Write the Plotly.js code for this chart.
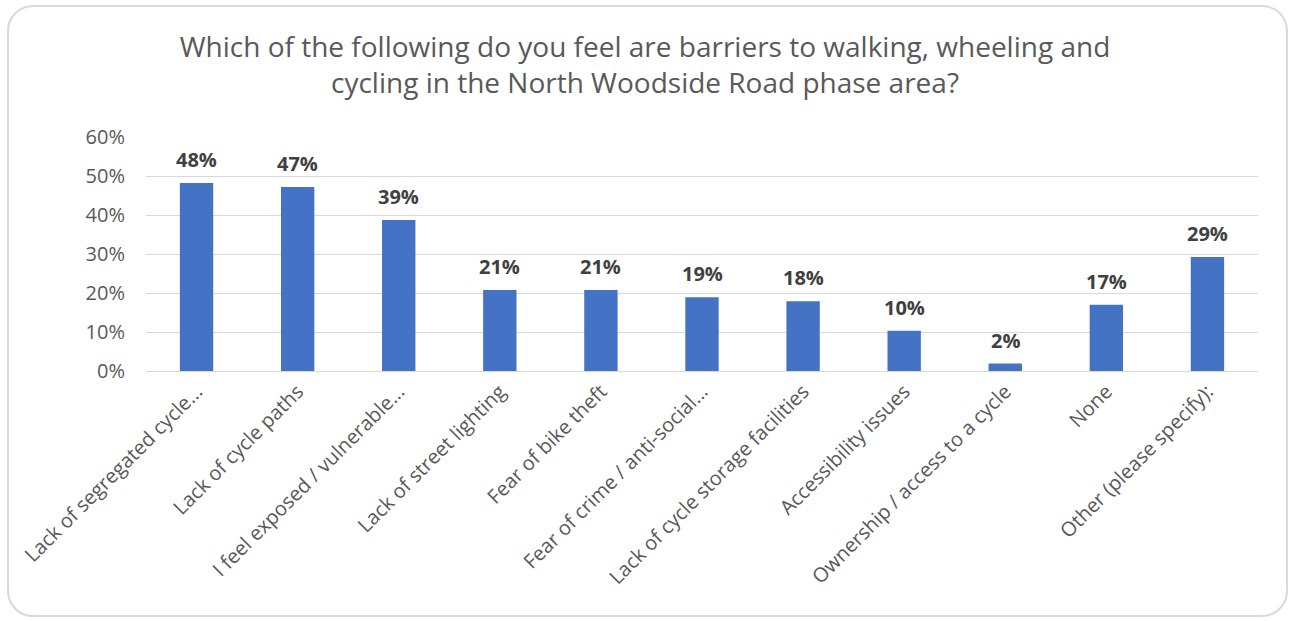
<!DOCTYPE html>
<html>
<head>
<meta charset="utf-8">
<script src="https://cdn.plot.ly/plotly-3.0.1.min.js"></script>
<style>
  body { margin: 0; background: #fff; }
  #chart { position: absolute; left: 0; top: 0; width: 1290px; height: 621px; }
  #frame {
    position: absolute; left: 7px; top: 5px; width: 1277px; height: 608px;
    border: 2px solid #d9d9d9; border-radius: 26px; pointer-events: none;
  }
</style>
</head>
<body>
<div id="chart"></div>
<div id="frame"></div>
<script>
// barriers to walking, wheeling and cycling (% of respondents)
var barriers = [
  'Lack of segregated cycle...',
  'Lack of cycle paths',
  'I feel exposed / vulnerable...',
  'Lack of street lighting',
  'Fear of bike theft',
  'Fear of crime / anti-social...',
  'Lack of cycle storage facilities',
  'Accessibility issues',
  'Ownership / access to a cycle',
  'None',
  'Other (please specify):'
];
var shares = [48.2, 47.2, 38.7, 20.8, 20.8, 18.9, 17.9, 10.3, 1.9, 17.0, 29.2];
var yTicks = [0, 10, 20, 30, 40, 50, 60];

var greyText = '#595959';
var font = 'Open Sans, sans-serif';

var barTrace = {
  x: barriers,
  y: shares,
  type: 'bar',
  marker: { color: '#4472C4' },
  hoverinfo: 'x+y'
};

// value labels above bars
var labels = barriers.map(function (b, i) {
  return {
    x: b,
    y: shares[i],
    xref: 'x',
    yref: 'y',
    text: Math.round(shares[i]) + '%',
    showarrow: false,
    yanchor: 'bottom',
    yshift: 8,
    font: { family: font, size: 20, color: '#404040', weight: 'bold' }
  };
});

var layout = {
  width: 1290,
  height: 621,
  margin: { l: 146, r: 32, t: 137, b: 250 },
  paper_bgcolor: 'rgba(0,0,0,0)',
  plot_bgcolor: 'rgba(0,0,0,0)',
  showlegend: false,
  bargap: 0.67,
  title: {
    text: 'Which of the following do you feel are barriers to walking, wheeling and<br>cycling in the North Woodside Road phase area?',
    font: { family: font, size: 28, color: greyText },
    x: 0.5,
    xanchor: 'center',
    yref: 'container',
    y: 0.909,
    yanchor: 'middle'
  },
  xaxis: {
    type: 'category',
    tickangle: -45,
    tickfont: { family: font, size: 20, color: greyText },
    showgrid: false,
    showline: true,
    linecolor: '#d9d9d9',
    linewidth: 1,
    ticks: '',
    automargin: false
  },
  yaxis: {
    range: [0, 60],
    tickmode: 'array',
    tickvals: yTicks,
    ticktext: yTicks.map(function (v) { return v + '%'; }),
    tickfont: { family: font, size: 20, color: greyText },
    ticklabelstandoff: 20,
    showgrid: true,
    gridcolor: '#d9d9d9',
    gridwidth: 1,
    zeroline: false,
    ticks: '',
    automargin: false
  },
  annotations: labels
};

Plotly.newPlot('chart', [barTrace], layout, { displayModeBar: false, staticPlot: true });
</script>
</body>
</html>
